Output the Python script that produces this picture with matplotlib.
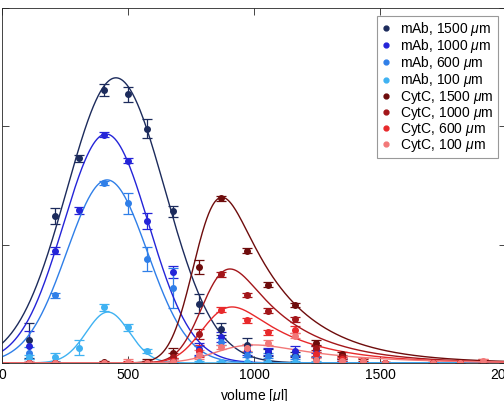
import math
import numpy as np
import matplotlib
matplotlib.use("Agg")
import matplotlib.pyplot as plt

plt.rcParams['font.family'] = ['Liberation Sans', 'DejaVu Sans']
plt.rcParams['mathtext.fontset'] = 'custom'
plt.rcParams['mathtext.rm'] = 'Liberation Sans'
plt.rcParams['mathtext.it'] = 'Liberation Sans:italic'

# fraction volumes [ul]
volume = [107, 210, 306, 405, 500, 575, 679, 782, 869, 972, 1056, 1163, 1246, 1349, 1433, 1520, 1710, 1817, 1909]
nan = float('nan')

labels = ['mAb, 1500 $\\mu$m', 'mAb, 1000 $\\mu$m', 'mAb, 600 $\\mu$m', 'mAb, 100 $\\mu$m',
          'CytC, 1500 $\\mu$m', 'CytC, 1000 $\\mu$m', 'CytC, 600 $\\mu$m', 'CytC, 100 $\\mu$m']
colors = ['#1c2b5c', '#2424d8', '#2f7fe8', '#3fb2f2',
          '#6e0c0c', '#a3161a', '#e8292b', '#f27878']

mab1500 = [0.19, 1.24, 1.73, 2.31, 2.27, 1.98, 1.28, 0.50, 0.29, 0.15, 0.09, 0.07, 0.03, 0.02, nan, nan, nan, nan, nan]
mab1000 = [0.14, 0.95, 1.29, 1.93, 1.71, 1.20, 0.77, 0.12, 0.22, 0.11, 0.10, 0.10, 0.11, 0.03, nan, nan, nan, nan, nan]
mab600 = [0.085, 0.57, nan, 1.52, 1.35, 0.88, 0.63, 0.10, 0.18, 0.07, 0.06, 0.05, 0.07, 0.02, nan, nan, nan, nan, nan]
mab100 = [0.05, 0.05, 0.13, 0.47, 0.30, 0.10, 0.025, 0.01, 0.01, 0.01, 0.01, 0.01, 0.01, 0.01, nan, nan, nan, nan, nan]
cyt1500 = [0.0, 0.0, nan, 0.01, 0.0, 0.01, 0.085, 0.81, 1.39, 0.95, 0.66, 0.49, 0.17, 0.076, 0.02, 0.0, 0.0, 0.0, 0.0]
cyt1000 = [0.0, 0.0, nan, 0.0, 0.0, 0.0, 0.05, 0.245, 0.75, 0.575, 0.44, 0.37, 0.127, 0.05, 0.01, 0.0, 0.0, 0.0, 0.0]
cyt600 = [0.0, 0.0, nan, 0.0, 0.0, 0.0, 0.02, 0.10, 0.45, 0.36, 0.26, 0.28, 0.076, 0.034, 0.02, 0.0, 0.0, 0.0, 0.01]
cyt100 = [0.0, 0.0, nan, 0.0, 0.01, 0.0, 0.01, 0.07, 0.135, 0.127, 0.17, 0.23, 0.025, 0.02, 0.02, 0.0, 0.0, 0.0, 0.015]

mab1500_err = [0.15, 0.07, 0.03, 0.05, 0.065, 0.08, 0.05, 0.08, 0.05, 0.06, 0.03, 0.02, 0.02, 0.01, 0, 0, 0, 0, 0]
mab1000_err = [0.13, 0.03, 0.03, 0.02, 0.02, 0.07, 0.05, 0.05, 0.04, 0.04, 0.03, 0.04, 0.03, 0.01, 0, 0, 0, 0, 0]
mab600_err = [0.05, 0.02, 0, 0.02, 0.09, 0.10, 0.17, 0.04, 0.03, 0.02, 0.02, 0.02, 0.02, 0.01, 0, 0, 0, 0, 0]
mab100_err = [0.02, 0.03, 0.06, 0.03, 0.03, 0.02, 0.01, 0.01, 0.01, 0.01, 0.01, 0.01, 0.01, 0.01, 0, 0, 0, 0, 0]
cyt1500_err = [0.01, 0.01, 0, 0.01, 0.01, 0.02, 0.04, 0.06, 0.02, 0.02, 0.02, 0.02, 0.02, 0.02, 0.01, 0.01, 0.01, 0.01, 0.01]
cyt1000_err = [0.01, 0.01, 0, 0.01, 0.01, 0.01, 0.03, 0.04, 0.02, 0.02, 0.02, 0.02, 0.02, 0.02, 0.01, 0.01, 0.01, 0.01, 0.01]
cyt600_err = [0.01, 0.01, 0, 0.01, 0.02, 0.02, 0.02, 0.05, 0.02, 0.02, 0.02, 0.03, 0.02, 0.02, 0.02, 0.01, 0.01, 0.01, 0.02]
cyt100_err = [0.01, 0.01, 0, 0.01, 0.02, 0.02, 0.02, 0.04, 0.02, 0.03, 0.02, 0.02, 0.02, 0.02, 0.02, 0.01, 0.01, 0.01, 0.02]

# fitted peaks: mAb gaussian (centre, height, sigma), CytC skewed (peak, height, sigma, tau)
mab_fit = [(452, 2.41, 195), (413, 1.935, 169), (417, 1.547, 160), (420, 0.43, 85)]
cyt_fit = [(873, 1.40, 80, 230), (905, 0.794, 80, 230), (913, 0.473, 85, 240), (1000, 0.152, 110, 300)]

series = [mab1500, mab1000, mab600, mab100, cyt1500, cyt1000, cyt600, cyt100]
errors = [mab1500_err, mab1000_err, mab600_err, mab100_err, cyt1500_err, cyt1000_err, cyt600_err, cyt100_err]

xs = np.linspace(0, 2000, 801)
erfc = np.vectorize(math.erfc)


def emg(t, s, tau):
    return np.exp(s**2 / (2 * tau**2) - t / tau) * erfc((s / tau - t / s) / np.sqrt(2))


def skew_peak(x, peak, h, s, tau):
    grid = np.linspace(-5 * s, 5 * s + 5 * tau, 4001)
    g = emg(grid, s, tau)
    t0 = grid[np.argmax(g)]
    return h * emg(x - peak + t0, s, tau) / g.max()


fig = plt.figure(figsize=(5.04, 4.01), dpi=100)
ax = fig.add_axes([0.004, 0.095, 1.0, 0.885])

for i in range(8):
    ax.errorbar(volume, series[i], yerr=errors[i], fmt='o', color=colors[i],
                ms=4, capsize=3.6, elinewidth=0.9, capthick=0.9)

for i, (c, h, s) in enumerate(mab_fit):
    ax.plot(xs, h * np.exp(-(xs - c)**2 / (2 * s**2)), color=colors[i], lw=1.0)
for i, (p, h, s, tau) in enumerate(cyt_fit):
    ax.plot(xs, skew_peak(xs, p, h, s, tau), color=colors[4 + i], lw=1.0)

ax.set_xlim(0, 2000)
ax.set_ylim(0, 3)
ax.set_xticks([0, 500, 1000, 1500, 2000])
ax.set_yticks([0, 1, 2, 3])
ax.tick_params(direction='in', top=True, right=True, length=5, width=0.6,
               labelsize=10, color='#262626')
for sp in ax.spines.values():
    sp.set_linewidth(0.6)
    sp.set_color('#262626')
ax.set_xlabel('volume [$\\mu$l]', fontsize=10)

leg = ax.legend(handles=[plt.Line2D([], [], ls='', marker='o', ms=3.5, color=c) for c in colors],
                labels=labels, loc='upper right', bbox_to_anchor=(0.984, 0.978),
                fontsize=10, frameon=True, fancybox=False, edgecolor='#999999',
                framealpha=1, labelspacing=-0.06, handlelength=0.8, handletextpad=0.6,
                borderpad=0.3, borderaxespad=0)
leg.get_frame().set_linewidth(0.8)

plt.savefig('out.png', dpi=100)
